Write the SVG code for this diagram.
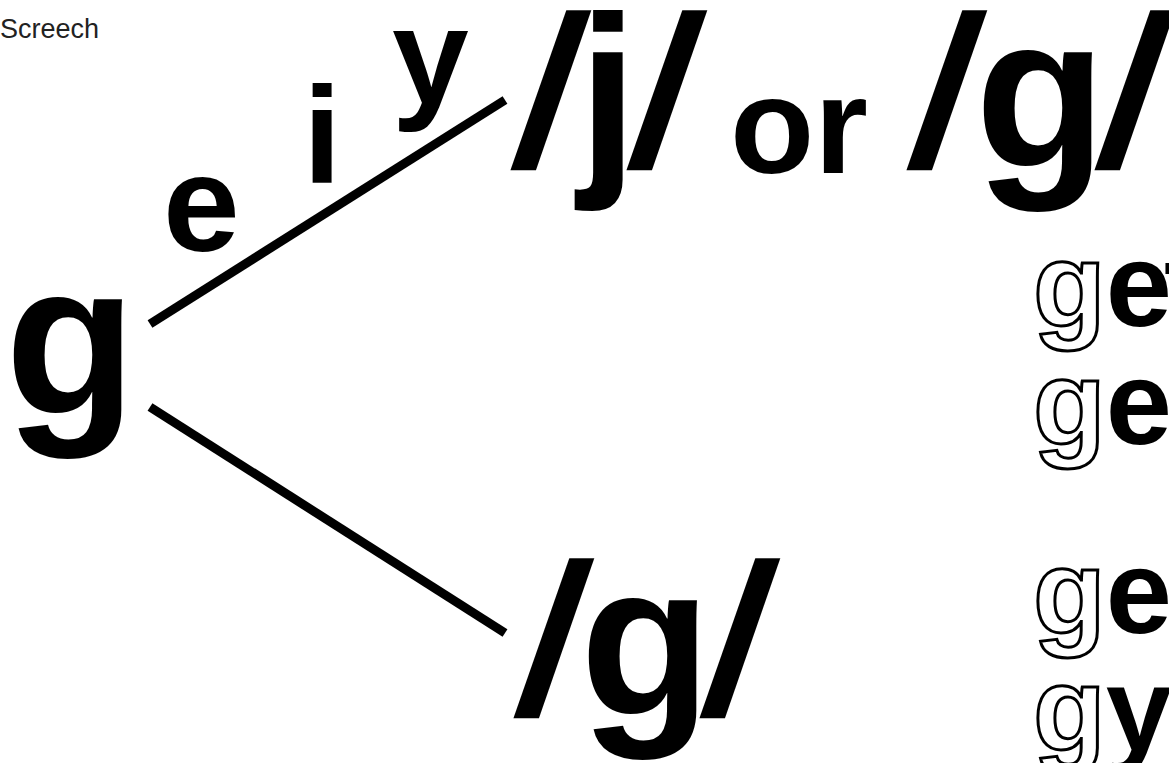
<svg xmlns="http://www.w3.org/2000/svg" width="1169" height="763" viewBox="0 0 1169 763">
<style>
.b{font-family:"Liberation Sans",Arial,sans-serif;font-weight:bold;fill:#000}
.r{font-family:"Liberation Sans",Arial,sans-serif;fill:#222}
.o{fill:#fff;stroke:#000;stroke-width:3}
.ln{stroke:#000;stroke-width:9;fill:none}
</style>
<rect width="1169" height="763" fill="#fff"/>
<g id="title"><text class="r" x="0" y="38" font-size="27">Screech</text></g>
<g id="source"><text class="b" x="5" y="413" font-size="215">g</text></g>
<g id="connectors">
<line class="ln" x1="150" y1="324" x2="505" y2="100"/>
<line class="ln" x1="150" y1="407" x2="505" y2="633"/>
</g>
<g id="letters">
<text class="b" x="163" y="251" font-size="138">e</text>
<text class="b" x="303" y="183" font-size="138">i</text>
<text class="b" x="392" y="103" font-size="138">y</text>
</g>
<g id="soft">
<text class="b" font-size="215" transform="translate(509,166) skewX(-9)">/</text>
<text class="b" font-size="215" transform="translate(578,166)">j</text>
<text class="b" font-size="215" transform="translate(625,166) skewX(-9)">/</text>
<text class="b" font-size="138" transform="translate(730,173)">or</text>
<text class="b" font-size="215" transform="translate(905,166) skewX(-9)">/</text>
<text class="b" font-size="215" transform="translate(975,166)">g</text>
<text class="b" font-size="215" transform="translate(1093,166) skewX(-9)">/</text>
</g>
<g id="hard">
<text class="b" font-size="215" transform="translate(512,714) skewX(-9)">/</text>
<text class="b" font-size="215" transform="translate(580,714)">g</text>
<text class="b" font-size="215" transform="translate(698,714) skewX(-9)">/</text>
</g>
<g id="examples">
<text class="b" x="1033" y="326" font-size="119"><tspan class="o">g</tspan>e<tspan x="1164">t</tspan></text>
<text class="b" x="1033" y="444" font-size="119"><tspan class="o">g</tspan>e</text>
<text class="b" x="1033" y="633" font-size="119"><tspan class="o">g</tspan>e</text>
<text class="b" x="1033" y="750" font-size="119"><tspan class="o">g</tspan>y</text>
</g>
</svg>
